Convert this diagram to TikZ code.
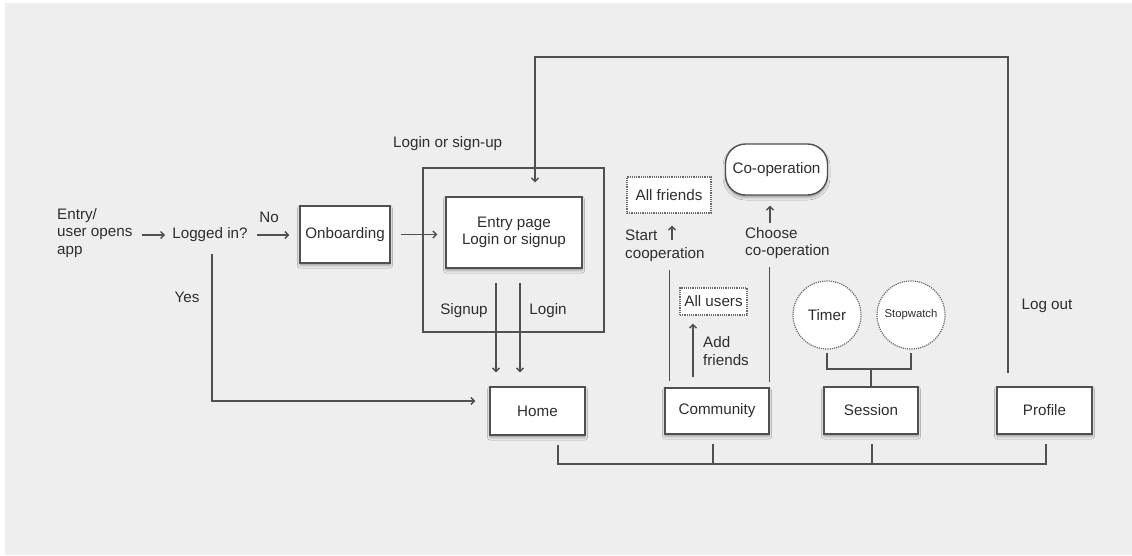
\documentclass[tikz,border=0pt]{standalone}
\usepackage{fontspec}
\setmainfont{Liberation Sans}
\usetikzlibrary{arrows.meta,shadows.blur,calc}
\definecolor{bg}{HTML}{EEEEEE}
\definecolor{ink}{HTML}{2E2E2E}
\definecolor{edge}{HTML}{505050}

\begin{document}
\begin{tikzpicture}[x=1pt,y=-1pt,
  font=\fontsize{15.2}{17.5}\selectfont,
  every node/.style={text=ink},
  txt/.style={inner sep=0pt, align=left},
  line/.style={draw=edge, line width=1.4pt},
  arr/.style={line, -{Straight Barb[length=3.5pt,width=7pt]}},
  box/.style={draw=edge, line width=1.4pt, fill=white, inner sep=0pt, align=center,
    blur shadow={shadow xshift=0pt, shadow yshift=-2.5pt, shadow blur radius=2.5pt, shadow opacity=35}},
  dotbox/.style={draw=edge!85, densely dotted, line width=1.2pt, fill=white, inner sep=0pt},
  dotcircle/.style={circle, draw=edge!85, densely dotted, line width=1.2pt, fill=white,
    inner sep=0pt, minimum size=68pt}
]
% canvas
\fill[white] (0,0) rectangle (1132,555);
\fill[bg] (5,3) rectangle (1132,555);
\useasboundingbox (0,0) rectangle (1132,555);

% entry and decision
\node[txt, anchor=west] (entry) at (57,233) {Entry/\\user opens\\app};
\node[txt] (logged) at (210,235) {Logged in?};
\node[box, minimum width=90pt, minimum height=57pt] (onboard) at (345,234.5) {Onboarding};

% login / sign-up group
\node[draw=edge, line width=1.4pt, minimum width=181pt, minimum height=164pt, inner sep=0pt] (group) at (513.5,250) {};
\node[txt, anchor=west] (grouplbl) at (393,144) {Login or sign-up};
\node[box, minimum width=136pt, minimum height=71pt] (entrypage) at (514,232.5) {Entry page\\Login or signup};

% main tabs
\node[box, minimum width=95pt, minimum height=48pt] (home) at (537.5,411) {Home};
\node[box, minimum width=104pt, minimum height=46pt] (community) at (717,411) {Community};
\node[box, minimum width=94pt, minimum height=47pt] (session) at (871,410.5) {Session};
\node[box, minimum width=95pt, minimum height=47pt] (profile) at (1044.5,410.5) {Profile};

% community screens
\node[dotbox, minimum width=84pt, minimum height=36pt] (allfriends) at (669,195) {All friends};
\node[dotbox, minimum width=67pt, minimum height=27pt] (allusers) at (713.5,301.5) {All users};
\node[box, rounded corners=20pt, minimum width=102pt, minimum height=51pt] (coop) at (776.5,169.5) {Co-operation};

% session modes
\node[dotcircle] (timer) at (827,315) {Timer};
\node[dotcircle, font=\fontsize{11.3}{13}\selectfont] (stopwatch) at (911,315) {Stopwatch};

% labels
\node[txt] (no) at (269,217) {No};
\node[txt] (yes) at (187,297) {Yes};
\node[txt] (signuplbl) at (464,311) {Signup};
\node[txt] (loginlbl) at (548,311) {Login};
\node[txt, anchor=west] (startlbl) at (625,246) {Start\\cooperation};
\node[txt, anchor=west] (addlbl) at (703,351) {Add\\friends};
\node[txt, anchor=west] (chooselbl) at (745,243) {Choose\\co-operation};
\node[txt] (logoutlbl) at (1047,306) {Log out};

% helper coordinates
\coordinate (yesend) at ($(home.west)+(0,-10)$);
\coordinate (looptop) at (0,57);
\coordinate (startarr) at (672,240);
\coordinate (choosearr) at (770,223);
\coordinate (tsj) at (0,369);
\coordinate (bus) at (0,464);

% flow into the app
\draw[arr, shorten <=9pt, shorten >=7pt] (entry.east |- logged.west) -- (logged.west);
\draw[arr, shorten <=9pt, shorten >=10pt] (logged.east) -- (onboard.west |- logged.east);
\draw[arr, shorten <=10pt, shorten >=8pt] (onboard.east) -- (entrypage.west |- onboard.east);
\draw[arr, shorten <=12pt, shorten >=14pt] ([xshift=2pt]logged.south) |- (yesend);

% signup / login to home
\draw[arr, shorten <=14pt, shorten >=14pt] ([xshift=-18pt]entrypage.south) -- ([xshift=-18pt]entrypage.south |- home.north);
\draw[arr, shorten <=14pt, shorten >=14pt] ([xshift=6pt]entrypage.south) -- ([xshift=6pt]entrypage.south |- home.north);

% log out loop
\draw[arr, shorten <=13pt, shorten >=14pt] ([xshift=-36.5pt]profile.north) -- ([xshift=-36.5pt]profile.north |- looptop) -| ([xshift=21pt]entrypage.north);

% community branches
\draw[line, shorten <=6pt, shorten >=8pt] ([xshift=5pt]community.north west) -- ([xshift=5pt]community.north west |- startlbl.south);
\draw[arr, shorten <=10pt, shorten >=8pt] ([xshift=-24pt]community.north) -- ([xshift=-24pt]community.north |- allusers.south);
\draw[line, shorten <=5pt, shorten >=8pt] (community.north east) -- (community.north east |- chooselbl.south);
\draw[arr, shorten >=12pt] (startarr) -- (startarr |- allfriends.south);
\draw[arr, shorten >=10pt] (choosearr) -- (choosearr |- coop.south);

% session modes
\draw[line, shorten <=3pt, shorten >=3pt] (timer.south) -- (timer.south |- tsj) -- (stopwatch.south |- tsj) -- (stopwatch.south);
\draw[line] (session.north) -- (session.north |- tsj);

% tab bar
\draw[line] ([xshift=20.5pt,yshift=-9pt]home.south) -- ([xshift=20.5pt]home.south |- bus) -- ([xshift=1.5pt]profile.south |- bus) -- ([xshift=1.5pt,yshift=-9pt]profile.south);
\draw[line] ([xshift=-4pt,yshift=-9pt]community.south) -- ([xshift=-4pt]community.south |- bus);
\draw[line] ([xshift=1pt,yshift=-9pt]session.south) -- ([xshift=1pt]session.south |- bus);
\end{tikzpicture}
\end{document}
